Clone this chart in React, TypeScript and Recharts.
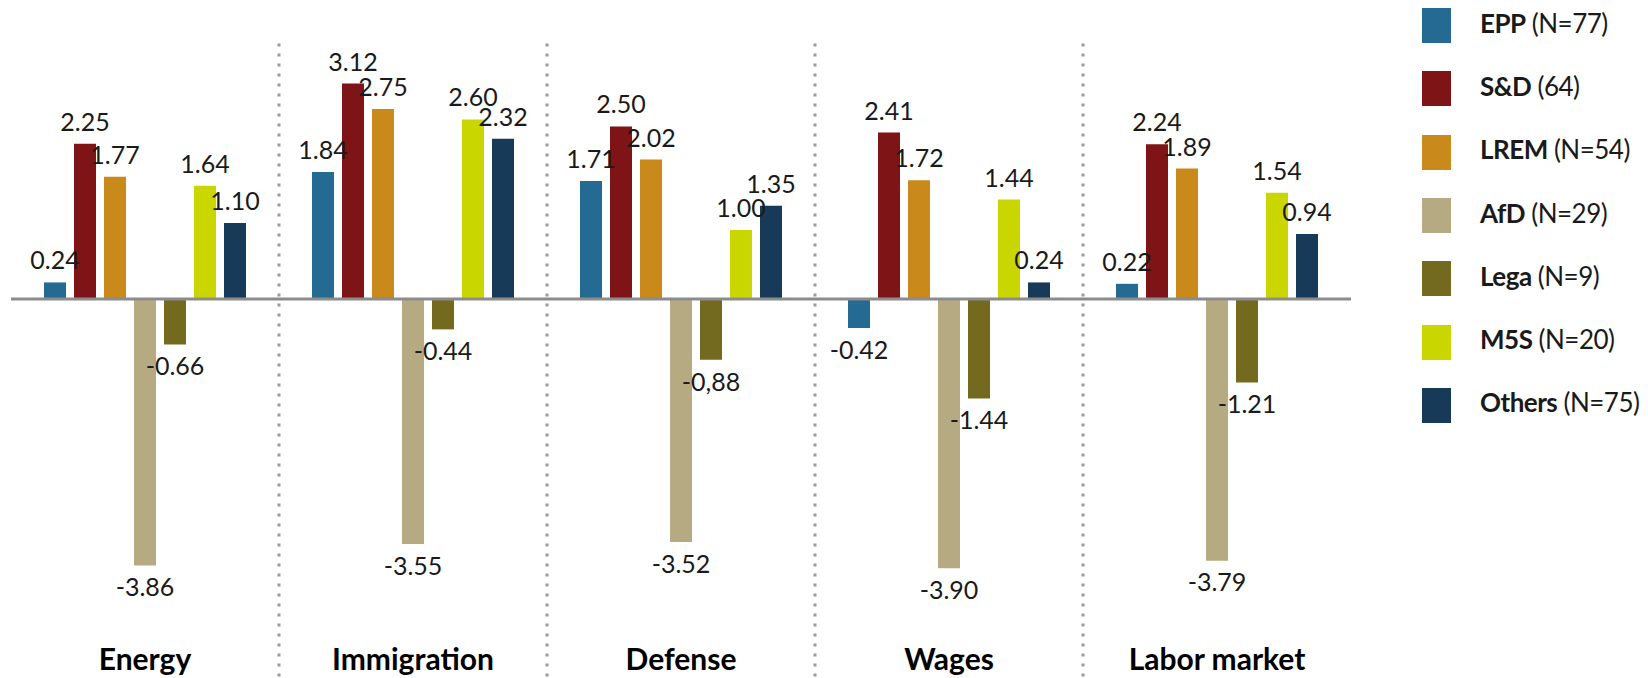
import { BarChart, Bar, XAxis, YAxis, ReferenceLine, LabelList, Legend } from "recharts";

const topics = ["Energy", "Immigration", "Defense", "Wages", "Labor market"];

const epp = [0.24, 1.84, 1.71, -0.42, 0.22];
const sd = [2.25, 3.12, 2.5, 2.41, 2.24];
const lrem = [1.77, 2.75, 2.02, 1.72, 1.89];
const afd = [-3.86, -3.55, -3.52, -3.9, -3.79];
const lega = [-0.66, -0.44, -0.88, -1.44, -1.21];
const m5s = [1.64, 2.6, 1.0, 1.44, 1.54];
const others = [1.1, 2.32, 1.35, 0.24, 0.94];

// Lega's Defense value is printed with a comma in the original
const legaText = ["-0.66", "-0.44", "-0,88", "-1.44", "-1.21"];

const series = [
  { key: "EPP", n: "(N=77)", color: "#246a93", values: epp },
  { key: "S&D", n: "(64)", color: "#7f1416", values: sd },
  { key: "LREM", n: "(N=54)", color: "#c98a1b", values: lrem },
  { key: "AfD", n: "(N=29)", color: "#b5aa82", values: afd },
  { key: "Lega", n: "(N=9)", color: "#736a1f", values: lega, text: legaText },
  { key: "M5S", n: "(N=20)", color: "#c9d600", values: m5s },
  { key: "Others", n: "(N=75)", color: "#163a57", values: others },
];

const data = topics.map((topic, i) => {
  const row: Record<string, string | number> = { topic, pos: i + 0.5 };
  series.forEach((s) => {
    row[s.key] = s.values[i];
    row[s.key + "_t"] = s.text ? s.text[i] : s.values[i].toFixed(2);
  });
  return row;
});

const dividers = [1, 2, 3, 4];

const font = 'Lato, "Open Sans", sans-serif';

function LegendBox() {
  return (
    <div style={{ fontFamily: font }}>
      {series.map((s) => (
        <div key={s.key} style={{ display: "flex", alignItems: "center", height: 63.3, whiteSpace: "nowrap" }}>
          <span style={{ display: "inline-block", width: 29, height: 35, background: s.color, marginRight: 29, flex: "none" }} />
          <span style={{ fontSize: 26, letterSpacing: -0.5, color: "#1a1a1a", marginTop: -6 }}>
            <b>{s.key}</b> {s.n}
          </span>
        </div>
      ))}
    </div>
  );
}

export default function App() {
  return (
    <div style={{ position: "absolute", left: 0, top: 0, background: "#fff" }}>
      <BarChart
        width={1648}
        height={678}
        data={data}
        margin={{ top: 9, right: 297, bottom: 0, left: 11 }}
        barGap={8}
        style={{ fontFamily: font }}
      >
        <XAxis
          dataKey="topic"
          axisLine={false}
          tickLine={false}
          height={89}
          tickMargin={54}
          tick={{ fontSize: 30, fontWeight: 700, fill: "#000" }}
        />
        <XAxis xAxisId="div" type="number" dataKey="pos" domain={[0, 5]} allowDataOverflow hide />
        <YAxis domain={[-4.2, 4.2]} hide />
        {dividers.map((d) => (
          <ReferenceLine
            key={d}
            xAxisId="div"
            segment={[{ x: d, y: 3.7 }, { x: d, y: -5.5 }]}
            ifOverflow="visible"
            stroke="#9a9a9a"
            strokeWidth={3}
            strokeDasharray="3 7"
          />
        ))}
        <Legend
          layout="vertical"
          align="center"
          verticalAlign="middle"
          content={<LegendBox />}
          wrapperStyle={{ left: 1422, top: -6, width: 226, height: 443 }}
        />
        {series.map((s) => (
          <Bar key={s.key} dataKey={s.key} name={s.key} fill={s.color} barSize={22} isAnimationActive={false}>
            <LabelList dataKey={s.key + "_t"} position="top" offset={13} fontSize={25} fill="#1a1a1a" />
          </Bar>
        ))}
        <ReferenceLine y={0} stroke="#8c8c8c" strokeWidth={3} />
      </BarChart>
    </div>
  );
}
